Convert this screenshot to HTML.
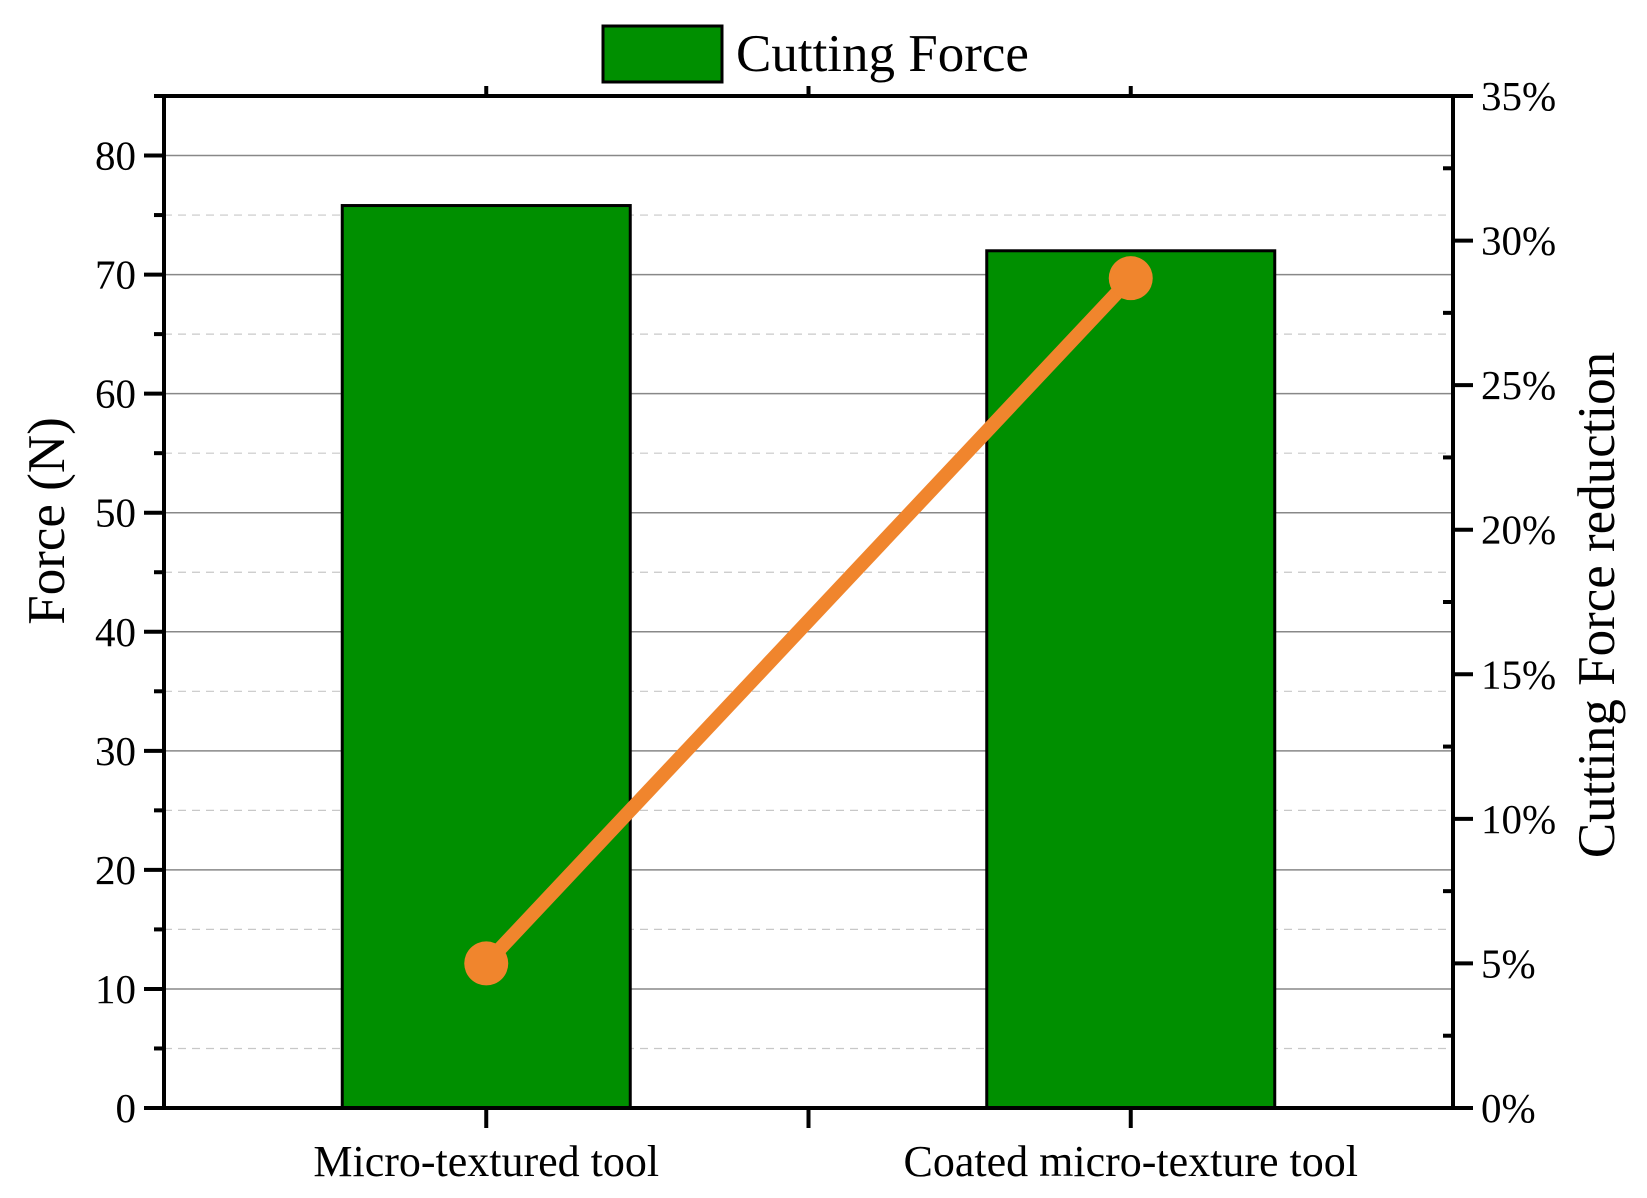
<!DOCTYPE html>
<html><head><meta charset="utf-8"><style>
body{margin:0;background:#fff}
svg{display:block;font-family:"Liberation Serif",serif}
</style></head><body>
<svg id="chart" width="1647" height="1198">
<g id="grid"></g>
<g id="bars"></g>
<g id="line"></g>
<g id="axes"></g>
<g>
<rect x="603" y="26" width="119" height="56" fill="#008f00" stroke="#000" stroke-width="3"/>
<text x="736" y="71" font-size="53">Cutting Force</text>
</g>
<text transform="translate(64,521) rotate(-90)" text-anchor="middle" font-size="53">Force (N)</text>
<text transform="translate(1614,605) rotate(-90)" text-anchor="middle" font-size="53">Cutting Force reduction</text>
</svg>
<script>
const categories=["Micro-textured tool","Coated micro-texture tool"];
const forceValues=[75.8,72.0];
const reductionValues=[5.0,28.7];
const leftTicks=[0,10,20,30,40,50,60,70,80];
const rightTicks=[0,5,10,15,20,25,30,35];
const L=164,R=1453,T=96,B=1108;
const yL=v=>B-(v/85)*(B-T);
const yR=v=>B-(v/35)*(B-T);
const xS=i=>L+(i+1-0.5)/2*(R-L);
const NS="http://www.w3.org/2000/svg";
function mk(p,tag,a){const e=document.createElementNS(NS,tag);for(const k in a)e.setAttribute(k,a[k]);p.appendChild(e);return e;}
const grid=document.getElementById('grid'),bars=document.getElementById('bars'),line=document.getElementById('line'),axes=document.getElementById('axes');
for(let v=5;v<85;v+=5){
 const major=v%10===0;
 const g=mk(grid,'line',{x1:L,x2:R,y1:yL(v),y2:yL(v),stroke:major?'#888':'#c8c8c8','stroke-width':major?1.5:1.2,'stroke-dasharray':major?'':'8 6'});
 
 
}
const bw=288;
forceValues.forEach((v,i)=>{
 const r=mk(bars,'rect',{x:xS(i)-bw/2,y:yL(v),width:bw,height:B-yL(v),fill:'#008f00',stroke:'#000','stroke-width':3});
 
 
});
const pts=reductionValues.map((v,i)=>xS(i)+','+yR(v)).join(' ');
const pl=mk(line,'polyline',{points:pts,fill:'none',stroke:'#f0852d','stroke-width':14});


reductionValues.forEach((v,i)=>{
 const c=mk(line,'circle',{cx:xS(i),cy:yR(v),r:22,fill:'#f0852d'});
 
 
});
const fr=mk(axes,'rect',{x:L,y:T,width:R-L,height:B-T,fill:'none',stroke:'#000','stroke-width':4});


for(let v=0;v<=85;v+=5){
 const major=v%10===0;
 const t=mk(axes,'line',{x1:L-(major?20:10),x2:L,y1:yL(v),y2:yL(v),stroke:'#000','stroke-width':4});
 
 
}
leftTicks.forEach(v=>{
 const t=mk(axes,'text',{x:L-28,y:yL(v)+14,'text-anchor':'end','font-size':41});
 t.textContent=v;
 
 
});
for(let v=0;v<=35;v+=2.5){
 const major=v%5===0;
 const t=mk(axes,'line',{x1:R,x2:R+(major?20:0),y1:yR(v),y2:yR(v),stroke:'#000','stroke-width':4});
 if(!major){t.setAttribute('x1',R-10);t.setAttribute('x2',R);}
 
 
}
rightTicks.forEach(v=>{
 const t=mk(axes,'text',{x:R+28,y:yR(v)+14,'font-size':41});
 t.textContent=v+'%';
 
 
});
[0,0.5,1].forEach(k=>{
 const x=xS(k);
 const b=mk(axes,'line',{x1:x,x2:x,y1:B,y2:B+20,stroke:'#000','stroke-width':4});
 
 
 const t=mk(axes,'line',{x1:x,x2:x,y1:T,y2:T-10,stroke:'#000','stroke-width':4});
 
 
});
categories.forEach((c,i)=>{
 const t=mk(axes,'text',{x:xS(i),y:1176,'text-anchor':'middle','font-size':44});
 t.textContent=c;
 
 
});
</script>
</body></html>
